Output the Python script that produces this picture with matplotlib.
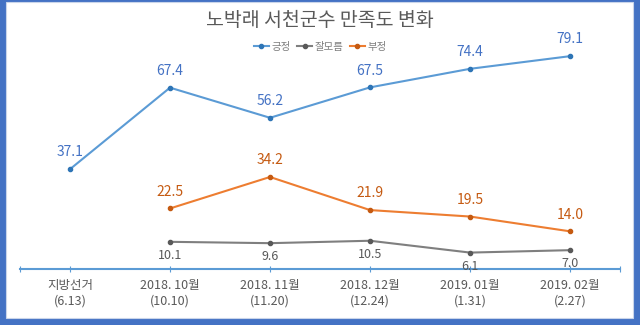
import matplotlib.pyplot as plt
from matplotlib.patches import Rectangle

plt.rcParams['font.family'] = ['Noto Sans CJK KR', 'DejaVu Sans']

# 조사 시점
labels = ['지방선거\n(6.13)', '2018. 10월\n(10.10)', '2018. 11월\n(11.20)',
          '2018. 12월\n(12.24)', '2019. 01월\n(1.31)', '2019. 02월\n(2.27)']
positive = [37.1, 67.4, 56.2, 67.5, 74.4, 79.1]
unknown = [None, 10.1, 9.6, 10.5, 6.1, 7.0]
negative = [None, 22.5, 34.2, 21.9, 19.5, 14.0]

blue = '#5B9BD5'
gray = '#7F7F7F'
orange = '#ED7D31'

fig = plt.figure(figsize=(6.4, 3.25), dpi=100, facecolor='#4472C4')
# 흰색 배경 판
fig.patches.append(Rectangle((6/640, 7/325), 627/640, 316/325,
                             transform=fig.transFigure, facecolor='white',
                             edgecolor='#C9D5EA', linewidth=0.8, zorder=-10))

ax = fig.add_axes([20/640, 56/325, 600/640, 0.7037])
ax.set_facecolor('none')

x = list(range(len(labels)))
x2 = x[1:]

ax.plot(x, positive, color=blue, lw=1.5, marker='o', ms=3,
        mfc='#2E75B6', mec='#2E75B6', label='긍정')
ax.plot(x2, unknown[1:], color=gray, lw=1.5, marker='o', ms=3,
        mfc='#595959', mec='#595959', label='잘모름')
ax.plot(x2, negative[1:], color=orange, lw=1.5, marker='o', ms=3,
        mfc='#C55A11', mec='#C55A11', label='부정')

for i, v in zip(x, positive):
    ax.annotate(f'{v:.1f}', (i, v), xytext=(0, 7), textcoords='offset points',
                ha='center', va='bottom', color='#4472C4', fontsize=10,
                fontweight='medium')
for i, v in zip(x2, negative[1:]):
    ax.annotate(f'{v:.1f}', (i, v), xytext=(0, 7), textcoords='offset points',
                ha='center', va='bottom', color='#C55A11', fontsize=10,
                fontweight='medium')
for i, v in zip(x2, unknown[1:]):
    ax.annotate(f'{v:.1f}', (i, v), xytext=(0, -5), textcoords='offset points',
                ha='center', va='top', color='#595959', fontsize=9)

ax.set_xlim(-0.5, 5.5)
ax.set_ylim(0, 85)
for s in ['top', 'right', 'left']:
    ax.spines[s].set_visible(False)
ax.spines['bottom'].set_color(blue)
ax.spines['bottom'].set_linewidth(1.5)
ax.set_yticks([])
ax.set_xticks([-0.5] + x + [5.5])
ax.set_xticklabels([''] + labels + [''], fontsize=9, color='#595959',
                   linespacing=1.25)
ax.tick_params(axis='x', direction='inout', length=5, color=blue, pad=5)

fig.legend(*ax.get_legend_handles_labels(), loc='center',
           bbox_to_anchor=(0.5, 1 - 47/325), ncol=3, frameon=False,
           fontsize=7.5, labelcolor='#7F7F7F', handlelength=1.5,
           handletextpad=0.2, columnspacing=0.6)

fig.text(0.5, 1 - 21/325, '노박래 서천군수 만족도 변화', ha='center', va='center',
         fontsize=14, color='#595959')

fig.savefig('out.png', dpi=100, facecolor=fig.get_facecolor())
